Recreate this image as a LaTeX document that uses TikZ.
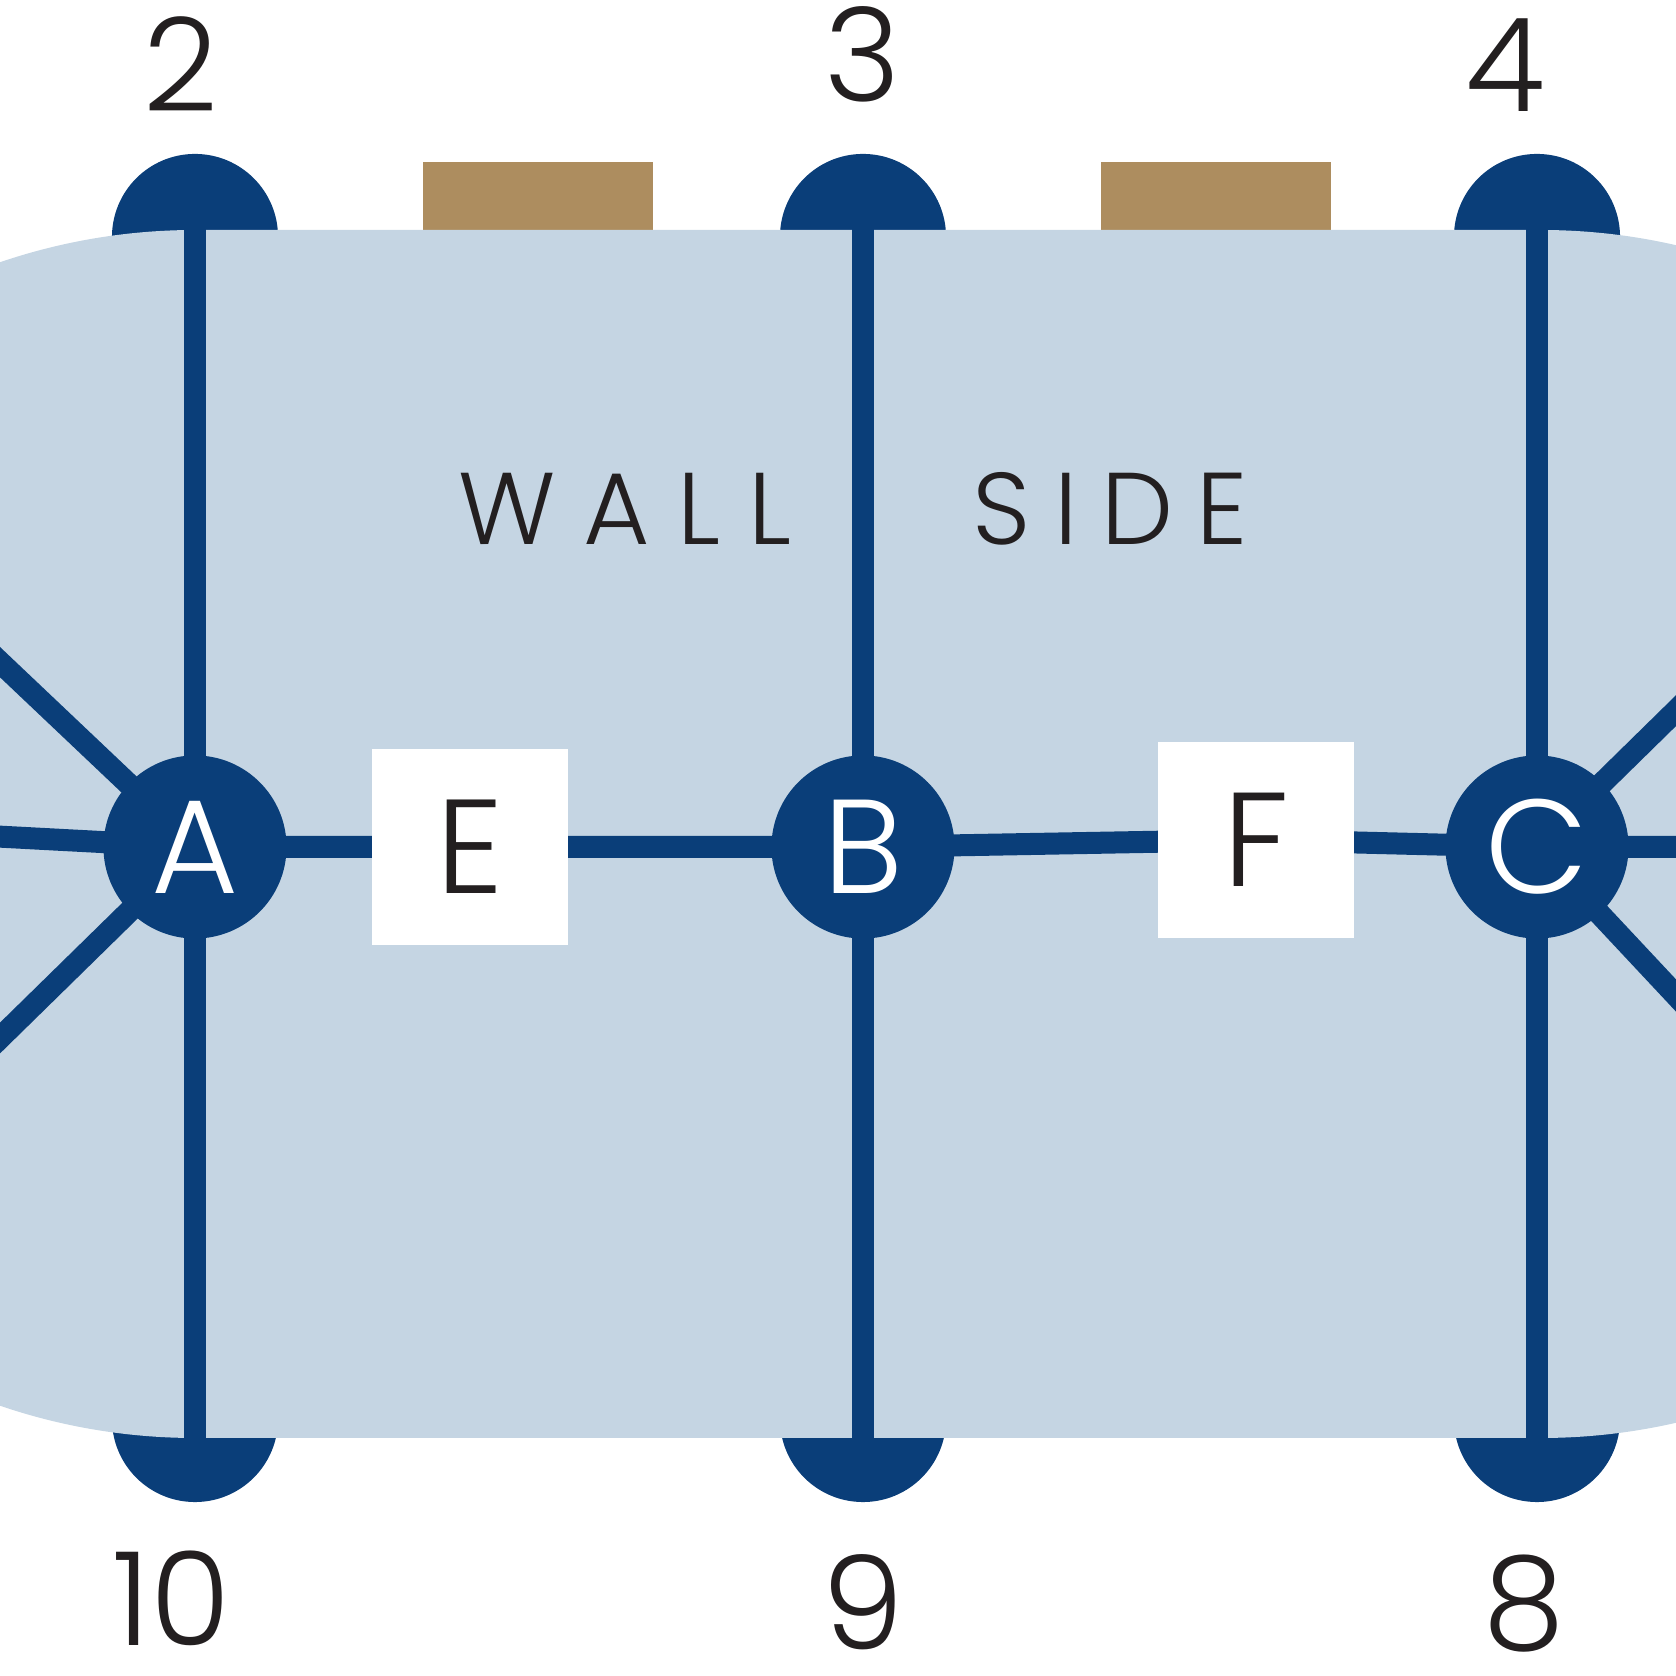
\documentclass[tikz,border=0pt]{standalone}
\usepackage{fontspec}
\IfFontExistsTF{Poppins Light}{\setmainfont{Poppins Light}}{\setmainfont{Poppins}}
\usepackage{tikz}
\usetikzlibrary{calc}
\definecolor{seatblue}{HTML}{0A3E79}
\definecolor{tableblue}{HTML}{C5D5E3}
\definecolor{woodbrown}{HTML}{AD8D5F}
\definecolor{ink}{HTML}{231F20}
\pgfdeclarelayer{back}
\pgfdeclarelayer{mid}
\pgfsetlayers{back,mid,main}

\begin{document}
\begin{tikzpicture}[x=0.01cm, y=0.01cm,
	seat/.style={circle, fill=seatblue, minimum size=1.66cm, inner sep=0pt},
	guest/.style={circle, fill=seatblue, text=white, minimum size=1.83cm, inner sep=0pt, font=\fontsize{38}{40}\selectfont},
	host/.style={rectangle, fill=white, text=ink, minimum size=1.95cm, inner sep=0pt, font=\fontsize{38}{40}\selectfont},
	seatno/.style={anchor=base, text=ink, inner sep=0pt, font=\fontsize{37}{38}\selectfont},
	walltext/.style={anchor=base west, text=ink, inner sep=0pt, font=\fontsize{29}{31}\selectfont\addfontfeature{LetterSpace=#1}},
	link/.style={draw=seatblue, line width=0.22cm}]
	\useasboundingbox (0,0) rectangle (1676,1676);
	\clip (0,0) rectangle (1676,1676);

	\begin{pgfonlayer}{back}
		% sideboards
		\fill[woodbrown] (423,1440) rectangle (653,1514);
		\fill[woodbrown] (1101,1440) rectangle (1331,1514);
		% chairs
		\node[seat] (c2) at (195,1439) {};
		\node[seat] (c3) at (863,1439) {};
		\node[seat] (c4) at (1537,1439) {};
		\node[seat] (c10) at (195,257) {};
		\node[seat] (c9) at (863,257) {};
		\node[seat] (c8) at (1537,257) {};
		% table
		\fill[tableblue, rounded corners=6.04cm] (-409,238) rectangle (2145,1446);
	\end{pgfonlayer}

	\node[walltext=27] (wall) at (458,1131) {WALL};
	\node[walltext=23] (side) at (972,1131) {SIDE};

	\node[guest] (A) at (195,829) {A};
	\node[host] (E) at (470,829) {E};
	\node[guest] (B) at (863,829) {B};
	\node[host] (F) at (1256,836) {F};
	\node[guest] (C) at (1537,829) {C};

	\coordinate (w) at (-50,842);
	\coordinate (e) at (1750,829);
	\coordinate (nw) at (-150,1156);
	\coordinate (sw) at (-150,491);
	\coordinate (ne) at (1800,1087);
	\coordinate (se) at (1800,548);

	\begin{pgfonlayer}{mid}
		\draw[link, shorten <=0.2cm, shorten >=0.2cm] (c2.north) -- (A.center) -- (c10.south);
		\draw[link, shorten <=0.2cm, shorten >=0.2cm] (c3.north) -- (B.center) -- (c9.south);
		\draw[link, shorten <=0.2cm, shorten >=0.2cm] (c4.north) -- (C.center) -- (c8.south);
		\draw[link] (w) -- (A.center) -- (E.center) -- (B.center) -- (F.center) -- (C.center) -- (e);
		\draw[link] (nw) -- (A.center) -- (sw);
		\draw[link] (ne) -- (C.center) -- (se);
	\end{pgfonlayer}

	\node[seatno] (n2) at (181,1564) {2};
	\node[seatno] (n3) at (863,1574) {3};
	\node[seatno] (n4) at (1505,1564) {4};
	\node[seatno] (n10) at (172,30) {10};
	\node[seatno] (n9) at (863,27) {9};
	\node[seatno] (n8) at (1524,26) {8};
\end{tikzpicture}
\end{document}
